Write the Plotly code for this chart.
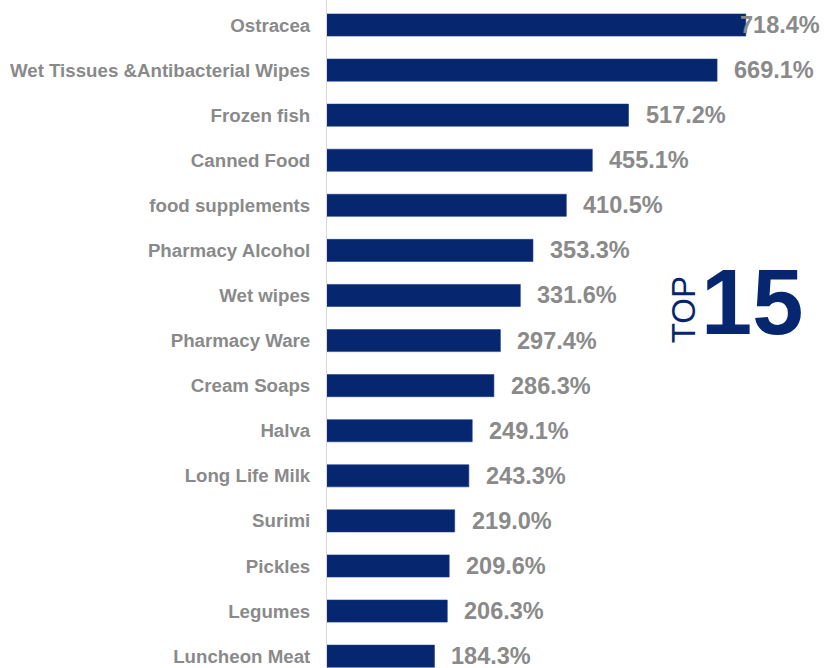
import plotly.graph_objects as go

# Growth by category, top 15 (percent)
categories = [
    "Ostracea", "Wet Tissues &Antibacterial Wipes", "Frozen fish", "Canned Food",
    "food supplements", "Pharmacy Alcohol", "Wet wipes", "Pharmacy Ware",
    "Cream Soaps", "Halva", "Long Life Milk", "Surimi", "Pickles", "Legumes",
    "Luncheon Meat",
]
growth = [718.4, 669.1, 517.2, 455.1, 410.5, 353.3, 331.6, 297.4,
          286.3, 249.1, 243.3, 219.0, 209.6, 206.3, 184.3]
value_labels = [f"{v:.1f}%" for v in growth]

NAVY = "#06266f"
GRAY = "#8a8a8a"
FONT = "Liberation Sans, Arial, sans-serif"

X_MAX = 852.5
LABEL_ROOM = 160  # data units needed to the right of a bar for its label

fig = go.Figure(
    go.Bar(
        x=growth,
        y=categories,
        orientation="h",
        width=0.49,
        marker=dict(color=NAVY, line=dict(color="#1a3a85", width=0.6)),
        hoverinfo="skip",
    )
)

annotations = []
for cat, v, lab in zip(categories, growth, value_labels):
    if v + LABEL_ROOM < X_MAX:
        annotations.append(dict(
            x=v, y=cat, xref="x", yref="y", text=lab, showarrow=False,
            xanchor="left", yanchor="middle", xshift=15,
            font=dict(family=FONT, size=23.5, color=GRAY, weight="bold"),
        ))
    else:
        # not enough room past the bar end: pin to the right edge
        annotations.append(dict(
            x=1, y=cat, xref="paper", yref="y", text=lab, showarrow=False,
            xanchor="right", yanchor="middle", xshift=-2,
            font=dict(family=FONT, size=23.5, color=GRAY, weight="bold"),
        ))

annotations.append(dict(
    x=0.719, y=0.536, xref="paper", yref="paper", text="TOP", showarrow=False,
    textangle=-90, xanchor="center", yanchor="middle",
    font=dict(family=FONT, size=33, color=NAVY),
))
annotations.append(dict(
    x=0.856, y=0.548, xref="paper", yref="paper", text="15", showarrow=False,
    xanchor="center", yanchor="middle",
    font=dict(family=FONT, size=92, color=NAVY, weight="bold"),
))

fig.update_layout(
    width=824, height=668,
    margin=dict(l=327, r=0, t=0, b=0),
    paper_bgcolor="white", plot_bgcolor="white",
    showlegend=False,
    annotations=annotations,
    xaxis=dict(range=[0, X_MAX], visible=False, showgrid=False, zeroline=False),
    yaxis=dict(
        type="category",
        categoryorder="array", categoryarray=categories,
        range=[14.263, -0.5546],
        showgrid=False, zeroline=False,
        showline=True, linecolor="#d9d9d9", linewidth=1,
        ticks="", ticklabelstandoff=12,
        tickfont=dict(family=FONT, size=18.7, color=GRAY, weight="bold"),
    ),
)

fig.write_html("out.html")
